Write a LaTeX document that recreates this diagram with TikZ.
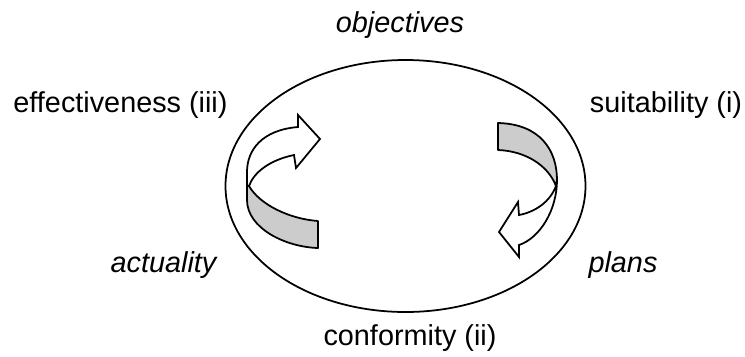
\documentclass[tikz,border=0pt]{standalone}
\usepackage{fontspec}
\setmainfont{Liberation Sans}
\begin{document}
\begin{tikzpicture}[x=0.02cm, y=-0.02cm, line width=1pt,
  lbl/.style={anchor=base, inner sep=0pt, font=\fontsize{16.4}{19}\selectfont},
  band/.style={fill=black!20, draw=black, line join=round},
  head/.style={fill=white, draw=black, line join=miter}]
\useasboundingbox (0,0) rectangle (745,356);
% ellipse
\draw (405.5,186) ellipse [x radius=180, y radius=126];
% labels
\node[lbl, font=\fontsize{16.4}{19}\selectfont\itshape] (obj) at (400,32) {objectives};
\node[lbl] (eff) at (120.5,112) {effectiveness (iii)};
\node[lbl] (suit) at (666,112) {suitability (i)};
\node[lbl, font=\fontsize{16.4}{19}\selectfont\itshape] (act) at (163.5,272) {actuality};
\node[lbl, font=\fontsize{16.4}{19}\selectfont\itshape] (plan) at (623,272) {plans};
\node[lbl] (conf) at (410,345) {conformity (ii)};
% left arrow, back side
\path[band] (247,186) -- (247,200) .. controls (247,228) and (285,247) .. (318,248)
  -- (318,221) .. controls (290,219) and (260,205) .. (249,186) -- cycle;
% left arrow, front side
\path[head] (249,186) .. controls (254,172) and (270,160) .. (294,155)
  -- (296,168) -- (320,139) -- (298,115) -- (298,127)
  .. controls (262,130) and (247,150) .. (247,172) -- (247,186) -- cycle;
% right arrow, back side
\path[band] (498,123) .. controls (540,124) and (557,150) .. (557,180)
  -- (556,186) .. controls (548,165) and (525,151) .. (498,150) -- cycle;
% right arrow, front side
\path[head] (556,186) .. controls (550,202) and (535,212) .. (519,215)
  -- (518,202) -- (499,232) -- (519,257) -- (519,245)
  .. controls (540,238) and (557,210) .. (557,180) -- cycle;
\end{tikzpicture}
\end{document}
